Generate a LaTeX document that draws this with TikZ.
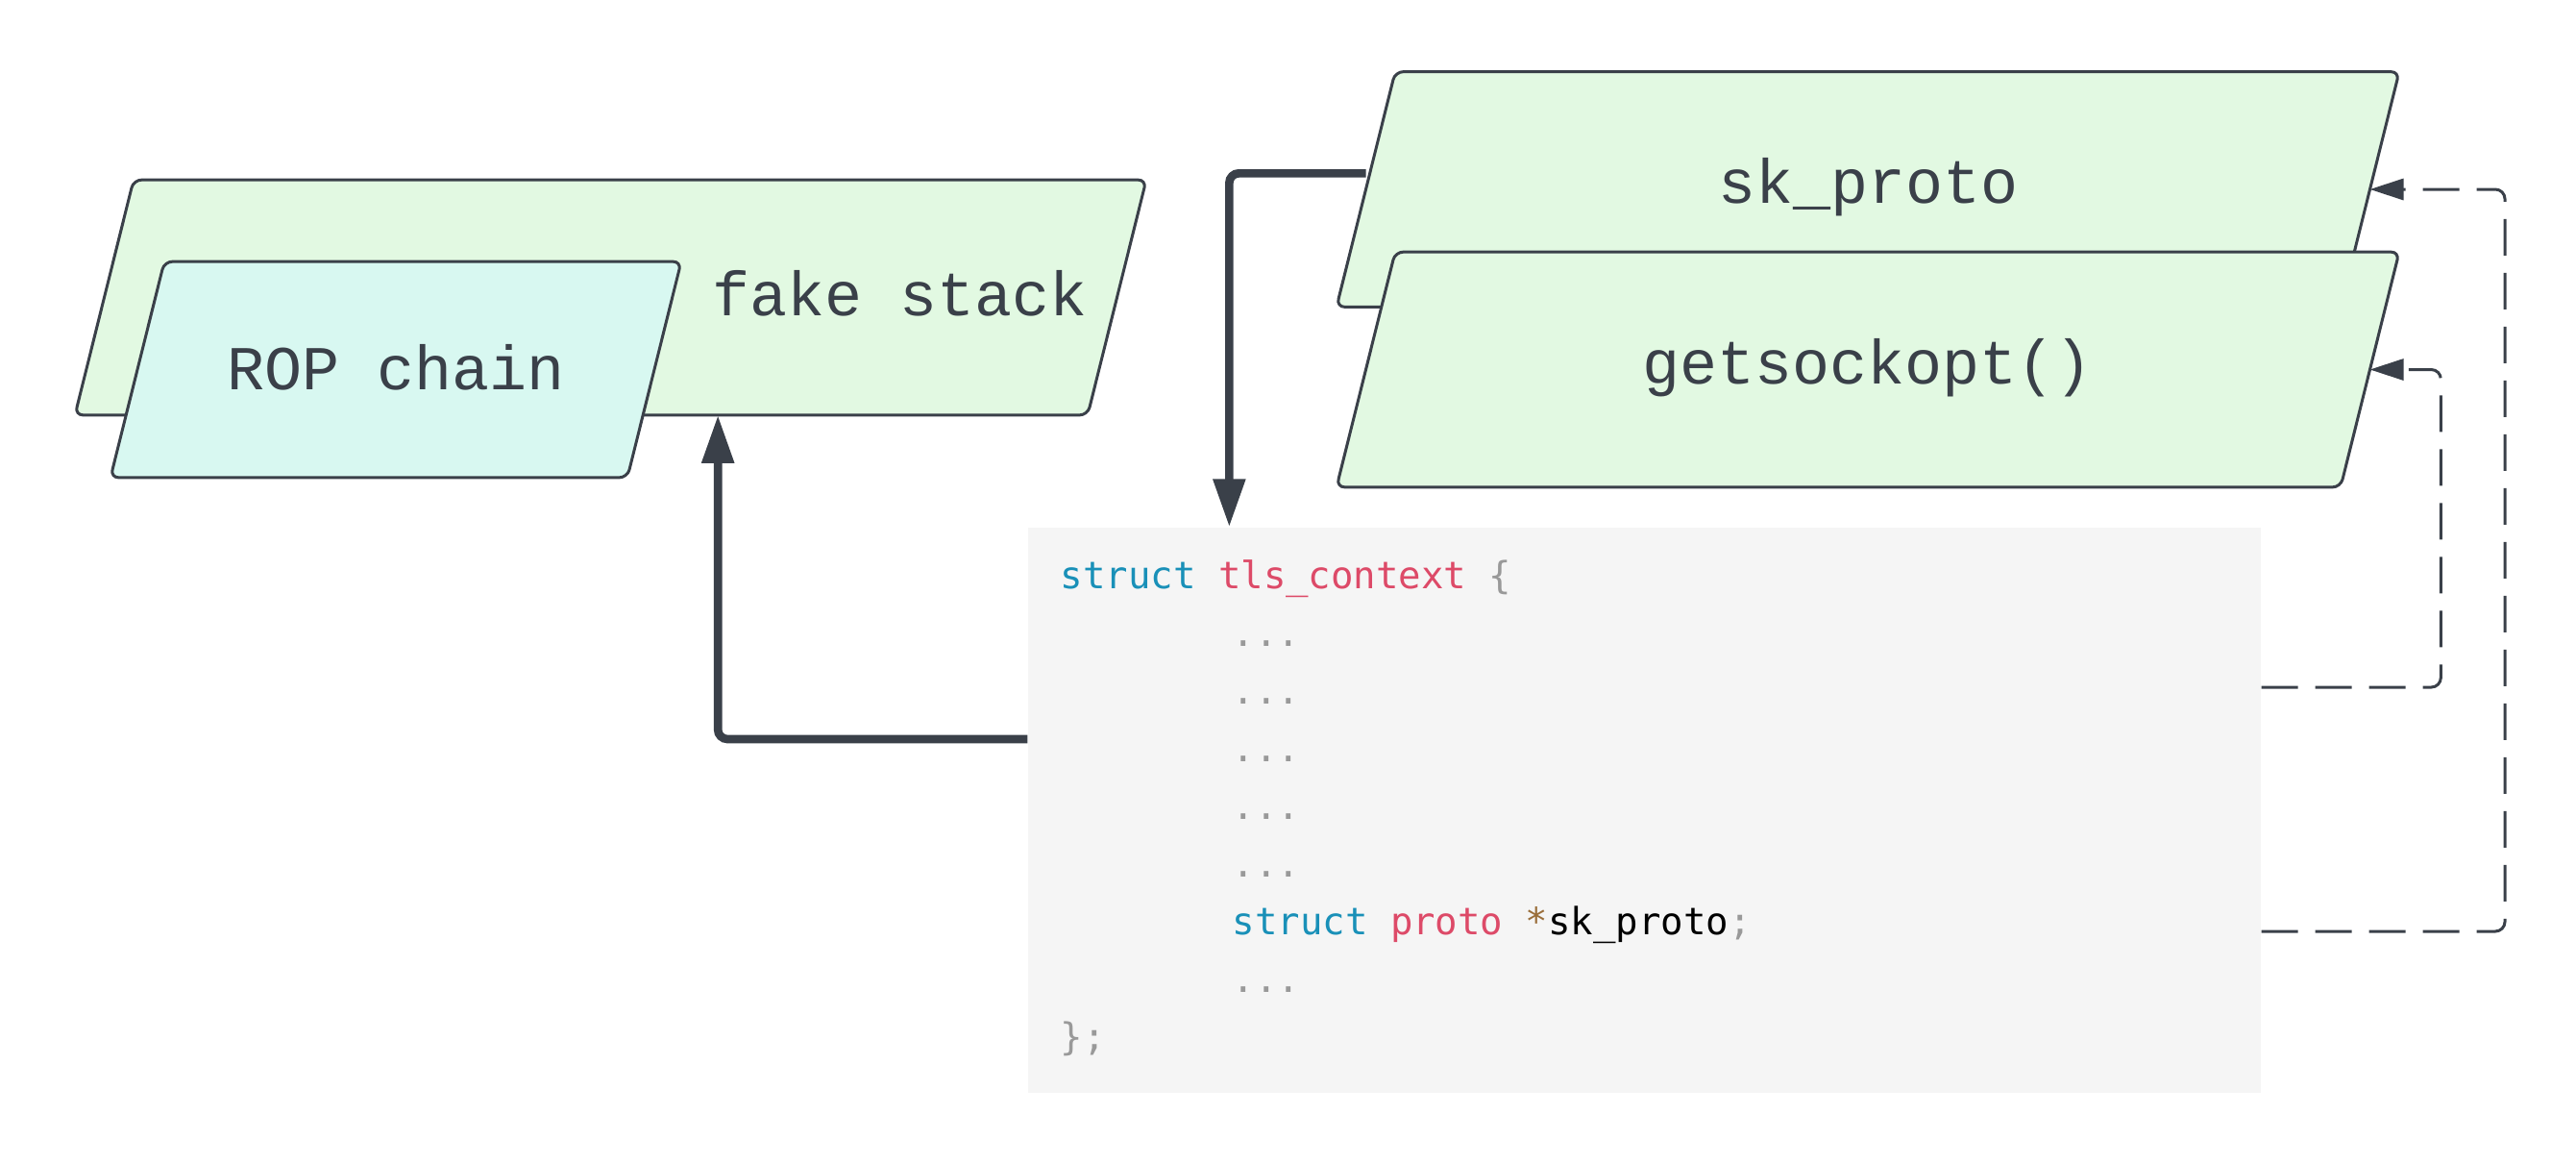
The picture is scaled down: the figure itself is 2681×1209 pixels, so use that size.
\documentclass[tikz,border=0pt]{standalone}
\usepackage{fontspec}
\usepackage{tikz}
\usepackage{xcolor}
\usetikzlibrary{shapes.geometric,arrows.meta,positioning}
\newfontfamily\boxfont{Liberation Mono}
\newfontfamily\codefont{DejaVu Sans Mono}
\definecolor{edgeSlate}{HTML}{3A4049}
\definecolor{boxGreen}{HTML}{E2F9E2}
\definecolor{ropCyan}{HTML}{D8F8F1}
\definecolor{codeBg}{HTML}{F5F5F5}
\definecolor{kwBlue}{HTML}{1990B8}
\definecolor{nameRed}{HTML}{DD4A68}
\definecolor{punctGray}{HTML}{999999}
\definecolor{opBrown}{HTML}{9A6E3A}
\newcommand{\kw}[1]{\textcolor{kwBlue}{#1}}
\newcommand{\nm}[1]{\textcolor{nameRed}{#1}}
\newcommand{\pc}[1]{\textcolor{punctGray}{#1}}
\newcommand{\tabin}{\hspace*{53.7pt}}

\begin{document}
\begin{tikzpicture}[
        x=0.3pt,y=-0.3pt,
        para/.style={trapezium,trapezium left angle=76,trapezium right angle=104,
                     trapezium stretches body=true,draw=edgeSlate,fill=boxGreen,
                     line width=0.9pt,rounded corners=2.5pt,inner xsep=2pt,
                     inner ysep=25.7pt,outer sep=0pt,text=edgeSlate,
                     font=\boxfont\fontsize{19.5pt}{22pt}\selectfont},
        lbl/.style={text=edgeSlate,inner sep=0pt,font=\boxfont\fontsize{19.5pt}{22pt}\selectfont},
        arr/.style={-{Triangle[length=15pt,width=9.6pt]},line width=2.6pt,
                    draw=edgeSlate,rounded corners=3pt},
        darr/.style={-{Triangle[length=10.5pt,width=6.6pt]},line width=0.9pt,
                     draw=edgeSlate,dash pattern=on 11.4pt off 5.4pt,rounded corners=3pt}
      ]
        \useasboundingbox (0,0) rectangle (2681,1209);
        % left stack
        \node[para,minimum width=334.5pt] (fake) at (635.5,309.5) {\strut};
        \node[lbl] (fakeText) at (937,305) {fake stack};
        \node[para,fill=ropCyan,minimum width=178.2pt,inner ysep=22.7pt] (rop) at (412,384.5)
          {\rule[-4.6pt]{0pt}{22pt}ROP chain};
        % right pair
        \node[para,minimum width=331.8pt] (skp) at (1944,197) {\strut sk\_proto};
        \node[para,minimum width=331.8pt] (gso) at (1944,384.5) {\strut getsockopt()};
        % struct listing
        \node[fill=codeBg,minimum width=384.9pt,minimum height=176.4pt,inner sep=0pt] (code) at (1711.5,843) {};
        \node[anchor=north west,inner sep=0pt,align=left,
              font=\codefont\fontsize{11.7pt}{18pt}\selectfont] (codeText) at (1103,582)
          {\kw{struct} \nm{tls\_context} \pc{\{}\\
           \tabin\pc{...}\\
           \tabin\pc{...}\\
           \tabin\pc{...}\\
           \tabin\pc{...}\\
           \tabin\pc{...}\\
           \tabin\kw{struct} \nm{proto} \textcolor{opBrown}{*}sk\_proto\pc{;}\\
           \tabin\pc{...}\\
           \pc{\};}};
        \draw[arr] ([yshift=22.2pt]code.west) -| ([xshift=33.5pt]fake.south);
        \draw[arr] ([yshift=5pt]skp.west) -| ([xshift=63pt]code.north west);
        \draw[darr] ([yshift=38.4pt]code.east) -- ++(56pt,0) |- (gso.east);
        \draw[darr] ([yshift=-37.8pt]code.east) -- ++(76pt,0) |- (skp.east);
      \end{tikzpicture}
\end{document}
